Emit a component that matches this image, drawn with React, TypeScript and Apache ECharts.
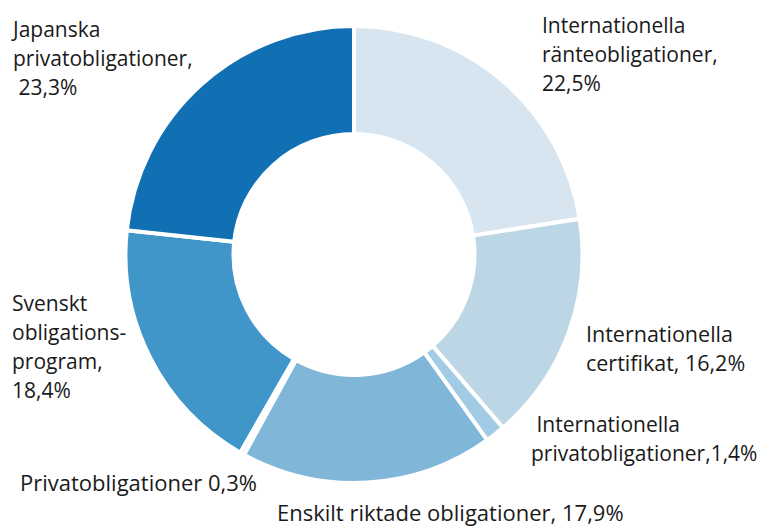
import React, { useEffect, useRef } from "react";
import * as echarts from "echarts";

// Data (clockwise from 12 o'clock)
const categories = [
  "Internationella ränteobligationer",
  "Internationella certifikat",
  "Internationella privatobligationer",
  "Enskilt riktade obligationer",
  "Privatobligationer",
  "Svenskt obligationsprogram",
  "Japanska privatobligationer",
];
const shares = [22.5, 16.2, 1.4, 17.9, 0.3, 18.4, 23.3];
// Label templates as printed in the chart; {v} is replaced by the share
const labelTemplates = [
  "Internationella\nränteobligationer,\n{v}%",
  "Internationella\ncertifikat, {v}%",
  " Internationella\nprivatobligationer,{v}%",
  "Enskilt riktade obligationer, {v}%",
  "Privatobligationer {v}%",
  "Svenskt\nobligations-\nprogram,\n{v}%",
  "Japanska\nprivatobligationer,\n {v}%",
];

// Styling / layout (not data)
const sliceColors = ["#d6e5ef", "#bdd6e6", "#a2cbe5", "#80b7d9", "#5fa6d2", "#4196c9", "#1170b4"];
const labelFontSizes = [21, 21.5, 21, 22, 22, 21, 21];
const labelAnchors: [number, number][] = [
  [542, 10],
  [586, 319],
  [531, 409],
  [277, 497],
  [20, 467],
  [12, 288],
  [13, 14],
];

const fmt = (v: number) => v.toFixed(1).replace(".", ",");

export default function App() {
  const ref = useRef<HTMLDivElement>(null);
  useEffect(() => {
    if (!ref.current) return;
    const chart = echarts.init(ref.current, null, { renderer: "svg" });
    chart.setOption({
      animation: false,
      backgroundColor: "#ffffff",
      series: [
        {
          type: "pie",
          center: [354, 254.5],
          radius: [120.5, 228.5],
          startAngle: 90,
          clockwise: true,
          avoidLabelOverlap: false,
          data: categories.map((name, i) => ({
            name,
            value: shares[i],
            itemStyle: { color: sliceColors[i] },
            label: { fontSize: labelFontSizes[i] },
          })),
          itemStyle: { borderColor: "#ffffff", borderWidth: 4 },
          label: {
            show: true,
            position: "outside",
            formatter: (p: any) => labelTemplates[p.dataIndex].replace("{v}", fmt(p.value)),
            fontFamily: "Open Sans",
            fontSize: 21,
            lineHeight: 29,
            color: "#1a1a1a",
          },
          labelLine: { show: false },
          labelLayout: (p: any) => ({
            x: labelAnchors[p.dataIndex][0],
            y: labelAnchors[p.dataIndex][1],
            align: "left",
            verticalAlign: "top",
          }),
          emphasis: { disabled: true },
        },
      ],
    });
    return () => chart.dispose();
  }, []);
  return (
    <div
      ref={ref}
      style={{ position: "fixed", left: 0, top: 0, width: 769, height: 526 }}
    />
  );
}
